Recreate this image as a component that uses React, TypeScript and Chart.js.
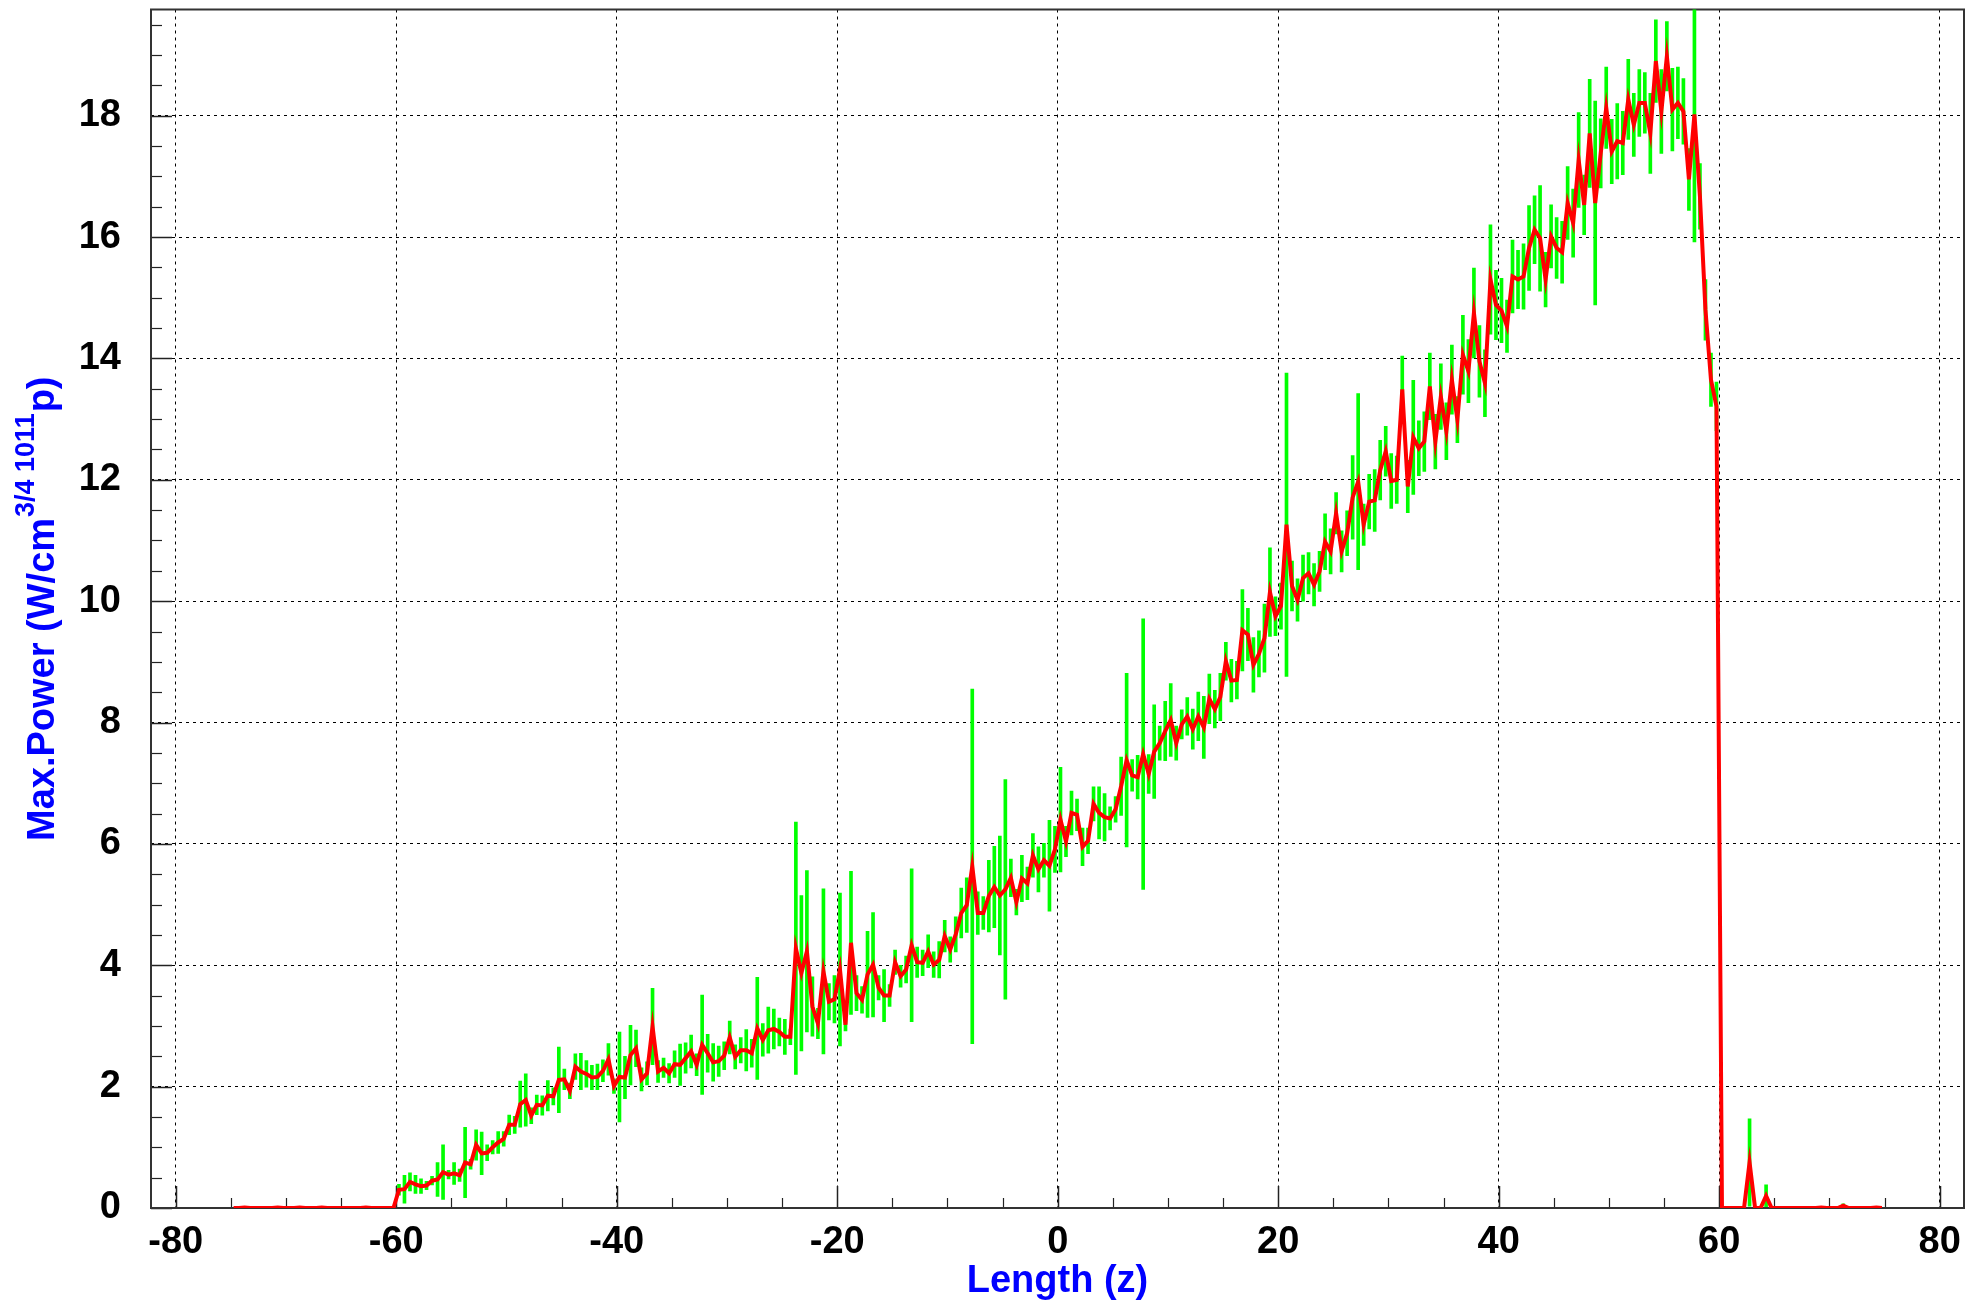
import { useEffect, useRef } from "react";
import { Chart, registerables } from "chart.js";

Chart.register(...registerables);

// Histogram definition: 300 bins of width 0.5 from -75 to 75 (values at bin centres)
const BIN_START = -74.75;
const BIN_WIDTH = 0.5;

// Max. power per bin
const maxPower = [
  // -74.75 .. -60.25
  0, 0, 0.01, 0, 0, 0, 0, 0, 0.01, 0,
  0, 0, 0.01, 0, 0, 0, 0.01, 0, 0, 0,
  0, 0, 0, 0, 0.01, 0, 0, 0, 0, 0,
  // -59.75 .. -40.25
  0.30, 0.31, 0.43, 0.39, 0.36, 0.37, 0.45, 0.47, 0.59, 0.55,
  0.57, 0.54, 0.75, 0.72, 1.04, 0.90, 0.91, 1.00, 1.08, 1.14,
  1.37, 1.37, 1.71, 1.78, 1.52, 1.70, 1.69, 1.85, 1.84, 2.11,
  2.12, 1.93, 2.33, 2.25, 2.21, 2.15, 2.16, 2.26, 2.45, 2.01,
  // -39.75 .. -19.75
  2.16, 2.15, 2.52, 2.63, 2.12, 2.22, 2.99, 2.25, 2.31, 2.22,
  2.37, 2.36, 2.47, 2.58, 2.36, 2.69, 2.55, 2.40, 2.42, 2.51,
  2.81, 2.49, 2.60, 2.60, 2.55, 2.96, 2.77, 2.93, 2.95, 2.90,
  2.82, 2.82, 4.28, 3.87, 4.23, 3.32, 3.04, 3.90, 3.40, 3.44,
  3.93,
  // -19.25 .. 0.25
  3.02, 4.37, 3.54, 3.43, 3.85, 4.01, 3.63, 3.50, 3.50, 4.05,
  3.82, 3.93, 4.33, 4.05, 4.04, 4.23, 4.01, 4.09, 4.48, 4.26,
  4.51, 4.86, 4.99, 5.63, 4.86, 4.86, 5.14, 5.29, 5.15, 5.25,
  5.44, 5.04, 5.43, 5.35, 5.81, 5.58, 5.73, 5.64, 5.91, 6.40,
  // 0.75 .. 20.25
  6.04, 6.51, 6.48, 5.95, 6.05, 6.66, 6.51, 6.44, 6.42, 6.57,
  6.95, 7.38, 7.13, 7.10, 7.48, 7.15, 7.52, 7.66, 7.86, 8.04,
  7.66, 7.97, 8.10, 7.89, 8.10, 7.92, 8.39, 8.22, 8.42, 9.01,
  8.69, 8.70, 9.52, 9.45, 8.95, 9.13, 9.39, 10.15, 9.75, 9.92,
  // 20.75 .. 40.25
  11.26, 10.25, 10.02, 10.38, 10.46, 10.27, 10.49, 10.98, 10.82, 11.45,
  10.82, 11.12, 11.71, 11.97, 11.26, 11.64, 11.66, 12.16, 12.47, 11.98,
  12.00, 13.49, 11.89, 12.70, 12.52, 12.63, 13.54, 12.63, 13.37, 12.80,
  13.65, 12.99, 14.06, 13.79, 14.75, 13.95, 13.59, 15.30, 14.88, 14.79,
  // 40.75 .. 59.75
  14.53, 15.35, 15.30, 15.35, 15.82, 16.12, 15.98, 15.30, 16.01, 15.82,
  15.75, 16.56, 16.23, 17.27, 16.53, 17.71, 16.56, 17.38, 18.13, 17.41,
  17.58, 17.55, 18.27, 17.85, 18.21, 18.21, 17.71, 18.90, 18.07, 18.98,
  18.10, 18.21, 18.07, 16.95, 18.02, 16.67, 14.80, 13.65, 13.21,
  // 60.25 .. 74.75
  0, 0, 0, 0, 0, 0.75, 0, 0, 0.2, 0,
  0, 0, 0, 0, 0, 0, 0, 0, 0.01, 0,
  0, 0, 0.04, 0, 0, 0, 0, 0, 0.01, 0,
];

// Error (half length of green bar) per bin
const powerError = [
  // -74.75 .. -60.25
  0, 0, 0, 0, 0, 0, 0, 0, 0, 0,
  0, 0, 0, 0, 0, 0, 0, 0, 0, 0,
  0, 0, 0, 0, 0, 0, 0, 0, 0, 0,
  // -59.75 .. -40.25
  0.09, 0.23, 0.15, 0.15, 0.12, 0.07, 0.07, 0.28, 0.45, 0.07,
  0.18, 0.10, 0.58, 0.08, 0.25, 0.35, 0.13, 0.11, 0.18, 0.12,
  0.16, 0.14, 0.38, 0.43, 0.13, 0.16, 0.16, 0.25, 0.14, 0.54,
  0.17, 0.13, 0.21, 0.30, 0.22, 0.20, 0.21, 0.18, 0.26, 0.12,
  // -39.75 .. -19.75
  0.74, 0.35, 0.49, 0.30, 0.19, 0.19, 0.63, 0.18, 0.16, 0.16,
  0.22, 0.34, 0.25, 0.27, 0.18, 0.82, 0.31, 0.31, 0.25, 0.23,
  0.27, 0.20, 0.21, 0.34, 0.23, 0.84, 0.27, 0.38, 0.33, 0.23,
  0.29, 0.13, 2.08, 1.28, 1.33, 0.49, 0.25, 1.36, 0.30, 0.39,
  1.26,
  // -19.25 .. 0.25
  0.10, 1.18, 0.29, 0.22, 0.71, 0.86, 0.20, 0.43, 0.18, 0.20,
  0.18, 0.22, 1.26, 0.25, 0.21, 0.27, 0.21, 0.30, 0.26, 0.21,
  0.29, 0.41, 0.45, 2.92, 0.35, 0.27, 0.59, 0.67, 0.98, 1.81,
  0.31, 0.21, 0.38, 0.27, 0.36, 0.37, 0.28, 0.75, 0.38, 0.86,
  // 0.75 .. 20.25
  0.25, 0.36, 0.26, 0.31, 0.21, 0.28, 0.43, 0.39, 0.19, 0.21,
  0.48, 1.43, 0.26, 0.36, 2.23, 0.32, 0.77, 0.28, 0.49, 0.60,
  0.28, 0.24, 0.31, 0.33, 0.40, 0.51, 0.41, 0.31, 0.39, 0.31,
  0.35, 0.31, 0.67, 0.43, 0.45, 0.38, 0.56, 0.73, 0.32, 0.38,
  // 20.75 .. 40.25
  2.50, 0.41, 0.35, 0.38, 0.34, 0.35, 0.33, 0.46, 0.37, 0.34,
  0.34, 0.37, 0.69, 1.45, 0.34, 0.45, 0.51, 0.49, 0.41, 0.45,
  0.39, 0.55, 0.43, 0.94, 0.45, 0.49, 0.55, 0.45, 0.54, 0.47,
  0.57, 0.38, 0.65, 0.52, 0.74, 0.59, 0.55, 0.90, 0.57, 0.53,
  // 40.75 .. 59.75
  0.43, 0.60, 0.48, 0.54, 0.70, 0.56, 0.87, 0.45, 0.52, 0.50,
  0.51, 0.60, 0.56, 0.78, 0.49, 0.89, 1.68, 0.57, 0.67, 0.53,
  0.62, 0.52, 0.66, 0.52, 0.55, 0.50, 0.66, 0.68, 0.69, 0.57,
  0.68, 0.59, 0.54, 0.51, 2.10, 0.54, 0.50, 0.44, 0.40,
  // 60.25 .. 74.75
  0, 0, 0, 0, 0, 0.72, 0, 0, 0.18, 0,
  0, 0, 0, 0, 0, 0, 0, 0, 0, 0,
  0, 0, 0.03, 0, 0, 0, 0, 0, 0, 0,
];

// Axis definitions
const X_MIN = -82.24;
const X_MAX = 82.2;
const Y_MIN = 0;
const Y_MAX = 19.75;
const X_MAJOR = 20;
const X_MINOR = 5;
const Y_MAJOR = 2;
const Y_MINOR = 0.5;

const X_TITLE = "Length (z)";
const Y_TITLE_MAIN = "Max.Power (W/cm";
const Y_TITLE_SUP = "3/4 1011";
const Y_TITLE_TAIL = "p)";

const FONT_FAMILY = '"Liberation Sans", Arial, Helvetica, sans-serif';

const framePlugin = {
  id: "rootFrame",
  beforeDatasetsDraw(chart: any) {
    const { ctx, chartArea, scales } = chart;
    const { left, right, top, bottom } = chartArea;
    const xs = scales.x;
    const ys = scales.y;
    ctx.save();
    ctx.strokeStyle = "#222";
    // y ticks (inside, from left edge)
    const nY = Math.round((Y_MAX - Y_MIN) / Y_MINOR);
    for (let k = 0; k <= nY; k++) {
      const v = Y_MIN + k * Y_MINOR;
      if (v > Y_MAX) break;
      const major = Math.abs(v / Y_MAJOR - Math.round(v / Y_MAJOR)) < 1e-6;
      const len = major ? 21 : 11;
      const py = Math.round(ys.getPixelForValue(v)) + 0.5;
      ctx.lineWidth = major ? 1.5 : 1.2;
      ctx.beginPath();
      ctx.moveTo(left, py);
      ctx.lineTo(left + len, py);
      ctx.stroke();
    }
    // x ticks (inside, from bottom edge)
    for (let v = -80; v <= 80; v += X_MINOR) {
      const major = v % X_MAJOR === 0;
      const len = major ? 22 : 10;
      const px = Math.round(xs.getPixelForValue(v)) + 0.5;
      ctx.lineWidth = major ? 1.5 : 1.2;
      ctx.beginPath();
      ctx.moveTo(px, bottom);
      ctx.lineTo(px, bottom - len);
      ctx.stroke();
    }
    // frame
    ctx.lineWidth = 2;
    ctx.strokeStyle = "#333";
    ctx.strokeRect(left, top, right - left, bottom - top);
    ctx.restore();
  },
};

const titlesPlugin = {
  id: "rootTitles",
  afterDraw(chart: any) {
    const { ctx, chartArea } = chart;
    const { left, right, top, bottom } = chartArea;
    ctx.save();
    ctx.fillStyle = "#0000ff";
    // X title
    ctx.font = `bold 38px ${FONT_FAMILY}`;
    ctx.textAlign = "center";
    ctx.textBaseline = "alphabetic";
    ctx.fillText(X_TITLE, (left + right) / 2, 1292);

    // Y title with superscript, rotated
    const mainFont = `bold 38px ${FONT_FAMILY}`;
    const supFont = `bold 27px ${FONT_FAMILY}`;
    ctx.font = mainFont;
    const wMain = ctx.measureText(Y_TITLE_MAIN).width;
    const wTail = ctx.measureText(Y_TITLE_TAIL).width;
    ctx.font = supFont;
    const wSup = ctx.measureText(Y_TITLE_SUP).width;
    const total = wMain + wSup + wTail + 2;
    ctx.translate(54, (top + bottom) / 2);
    ctx.rotate(-Math.PI / 2);
    ctx.textAlign = "left";
    let x0 = -total / 2;
    ctx.font = mainFont;
    ctx.fillText(Y_TITLE_MAIN, x0, 0);
    x0 += wMain + 1;
    ctx.font = supFont;
    ctx.fillText(Y_TITLE_SUP, x0, -20);
    x0 += wSup + 1;
    ctx.font = mainFont;
    ctx.fillText(Y_TITLE_TAIL, x0, 0);
    ctx.restore();
  },
};

export default function App() {
  const canvasRef = useRef<HTMLCanvasElement | null>(null);

  useEffect(() => {
    const canvas = canvasRef.current;
    if (!canvas) return;

    const centres = maxPower.map((_, i) => BIN_START + i * BIN_WIDTH);
    const linePoints = maxPower.map((v, i) => ({ x: centres[i], y: v }));
    const errPoints = maxPower
      .map((v, i) => ({ x: centres[i], y: [v - powerError[i], v + powerError[i]], e: powerError[i] }))
      .filter((p) => p.e > 0)
      .map((p) => ({ x: p.x, y: p.y }));

    const tickFont = { family: FONT_FAMILY, size: 38, weight: "bold" as const };

    const chart = new Chart(canvas, {
      type: "line",
      data: {
        datasets: [
          {
            type: "line",
            data: linePoints,
            borderColor: "#ff0000",
            borderWidth: 4,
            pointRadius: 0,
            tension: 0,
            fill: false,
            order: 0,
          } as any,
          {
            type: "bar",
            data: errPoints,
            backgroundColor: "#00ff00",
            borderWidth: 0,
            barThickness: 3,
            grouped: false,
            order: 1,
          } as any,
        ],
      },
      options: {
        responsive: false,
        animation: false,
        events: [],
        layout: { padding: { top: 9.5, right: 20, left: 0, bottom: 0 } },
        plugins: {
          legend: { display: false },
          tooltip: { enabled: false },
          title: { display: false },
        },
        scales: {
          x: {
            type: "linear",
            min: X_MIN,
            max: X_MAX,
            offset: false,
            ticks: {
              stepSize: X_MAJOR,
              includeBounds: false,
              font: tickFont,
              color: "#000",
              padding: 12,
              maxRotation: 0,
              autoSkip: false,
            },
            grid: { color: "#000", lineWidth: 1, drawTicks: false, offset: false },
            border: { display: false, dash: [3, 4] },
            afterFit: (s: any) => {
              s.height = 98;
              s.paddingLeft = 0;
              s.paddingRight = 0;
              s.paddingTop = 0;
              s.paddingBottom = 0;
            },
          },
          y: {
            type: "linear",
            min: Y_MIN,
            max: Y_MAX,
            ticks: {
              stepSize: Y_MAJOR,
              includeBounds: false,
              font: tickFont,
              color: "#000",
              padding: 30,
              autoSkip: false,
            },
            grid: { color: "#000", lineWidth: 1, drawTicks: false },
            border: { display: false, dash: [3, 4] },
            afterFit: (s: any) => {
              s.width = 151;
              s.paddingLeft = 0;
              s.paddingRight = 0;
              s.paddingTop = 0;
              s.paddingBottom = 0;
            },
          },
        },
      } as any,
      plugins: [framePlugin, titlesPlugin],
    });

    return () => {
      chart.destroy();
    };
  }, []);

  return (
    <div style={{ position: "absolute", left: 0, top: 0, width: 1984, height: 1306, background: "#fff" }}>
      <canvas ref={canvasRef} width={1984} height={1306} style={{ width: 1984, height: 1306 }} />
    </div>
  );
}
